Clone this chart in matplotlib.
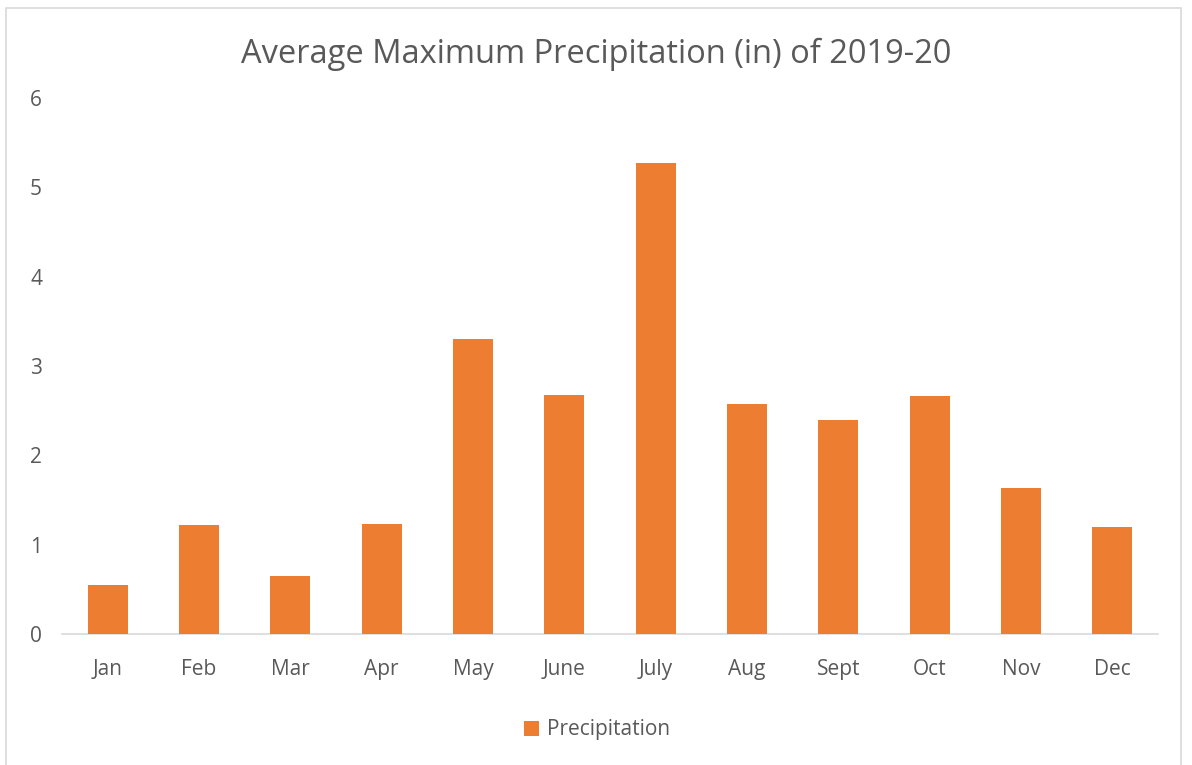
import matplotlib
matplotlib.use("Agg")
import matplotlib.pyplot as plt
from matplotlib.patches import Rectangle

months = ["Jan", "Feb", "Mar", "Apr", "May", "June", "July", "Aug", "Sept", "Oct", "Nov", "Dec"]
precip = [0.55, 1.22, 0.65, 1.23, 3.30, 2.67, 5.27, 2.58, 2.39, 2.66, 1.63, 1.20]
yticks = [0, 1, 2, 3, 4, 5, 6]

ORANGE = "#ED7D31"
TEXT = "#595959"
GRID = "#D9D9D9"

plt.rcParams['font.family'] = ['Open Sans', 'DejaVu Sans']

fig = plt.figure(figsize=(11.92, 7.65), dpi=100)
fig.patches.append(Rectangle((6/1192, -0.01), (1181-6)/1192, (765-8)/765 + 0.01,
                             transform=fig.transFigure, fill=False,
                             edgecolor=GRID, linewidth=1.2))

ax = fig.add_axes([62/1192, (765-634)/765, (1158-62)/1192, (634-98)/765])
x = list(range(len(months)))
ax.bar(x, precip, width=0.44, color=ORANGE, label="Precipitation", zorder=3)
ax.set_xlim(-0.5, len(months) - 0.5)
ax.set_ylim(0, 6)
ax.set_yticks(yticks)
ax.set_xticks(x)
ax.set_xticklabels(months)
for s in ["top", "right", "left"]:
    ax.spines[s].set_visible(False)
ax.spines["bottom"].set_color(GRID)
ax.spines["bottom"].set_linewidth(1.2)
ax.tick_params(axis="both", length=0, colors=TEXT, labelsize=15)
ax.tick_params(axis="x", pad=18)
for lbl in ax.get_yticklabels():
    lbl.set_horizontalalignment("left")
ax.yaxis.set_tick_params(pad=23)

fig.text(0.5, 1 - 54/765, "Average Maximum Precipitation (in) of 2019-20",
         ha="center", va="center", fontsize=23.5, color=TEXT)

leg = fig.legend(loc="center", bbox_to_anchor=(597/1192, 1 - 730/765), frameon=False,
                 fontsize=15, labelcolor=TEXT, handlelength=0.7, handleheight=0.7,
                 handletextpad=0.4)

fig.savefig("out.png", dpi=100)
